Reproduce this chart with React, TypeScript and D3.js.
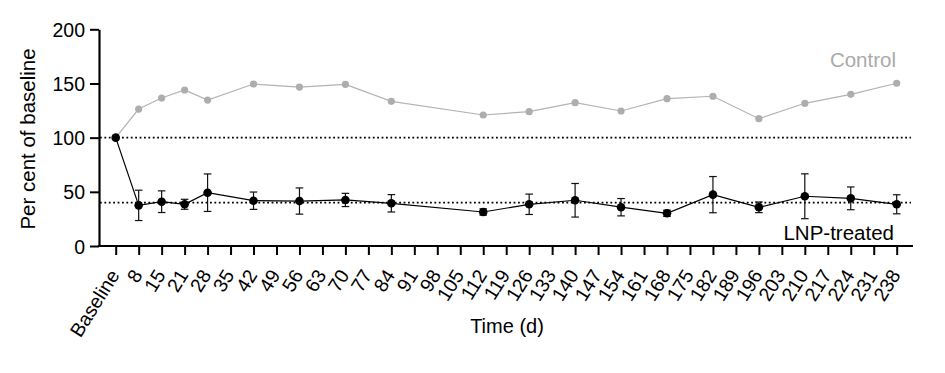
import React, { useEffect, useRef } from 'react';
import * as d3 from 'd3';

const timeLabels = [
  'Baseline', '8', '15', '21', '28', '35', '42', '49', '56', '63', '70', '77', '84', '91', '98', '105',
  '112', '119', '126', '133', '140', '147', '154', '161', '168', '175', '182', '189', '196', '203',
  '210', '217', '224', '231', '238'
];

const sampledDays = [
  'Baseline', '8', '15', '21', '28', '42', '56', '70', '84', '112', '126', '140', '154', '168',
  '182', '196', '210', '224', '238'
];

const controlValues = [
  100, 126.4, 136.6, 144, 134.7, 149.5, 146.7, 149.2, 133.5, 120.9, 124, 132.3, 124.6, 136,
  138.2, 117.5, 131.7, 140, 150.2
];

const lnpValues = [
  100, 37.5, 40.9, 38.5, 49.2, 41.8, 41.5, 42.5, 39.4, 31.4, 38.5, 42.2, 35.8, 30.2,
  47.4, 35.7, 45.9, 44, 38.5
];

const lnpError = [
  0, 14, 10, 4.6, 17.3, 8, 12.1, 6.1, 8, 2.9, 9.4, 15.5, 8, 2.9,
  16.7, 4.9, 20.7, 10.5, 8.8
];

const yTicks = [0, 50, 100, 150, 200];
const refLines = [100, 40];

const FONT = '"Liberation Sans", Arial, Helvetica, sans-serif';
const W = 945;
const H = 373;

const App = () => {
  const ref = useRef<SVGSVGElement>(null);

  useEffect(() => {
    document.body.style.margin = '0';
    const svg = d3.select(ref.current);
    svg.selectAll('*').remove();

    const x = d3.scalePoint<string>().domain(timeLabels).range([115.7, 896.7]);
    const y = d3.scaleLinear().domain([0, 200]).range([246, 29.3]);
    const axisLeftX = 99;
    const axisRightX = 913;

    // reference dotted lines
    svg
      .selectAll('line.ref')
      .data(refLines)
      .join('line')
      .attr('class', 'ref')
      .attr('x1', axisLeftX + 1)
      .attr('x2', 911)
      .attr('y1', d => y(d))
      .attr('y2', d => y(d))
      .attr('stroke', '#000')
      .attr('stroke-width', 1.8)
      .attr('stroke-dasharray', '1.8 2.6');

    const pts = sampledDays.map((d, i) => ({
      day: d,
      ctrl: controlValues[i],
      lnp: lnpValues[i],
      err: lnpError[i]
    }));

    // control series
    const ctrlLine = d3
      .line<typeof pts[0]>()
      .x(d => x(d.day)!)
      .y(d => y(d.ctrl));
    svg
      .append('path')
      .datum(pts)
      .attr('d', ctrlLine)
      .attr('fill', 'none')
      .attr('stroke', '#b3b3b3')
      .attr('stroke-width', 1.2);
    svg
      .append('g')
      .selectAll('circle')
      .data(pts)
      .join('circle')
      .attr('cx', d => x(d.day)!)
      .attr('cy', d => y(d.ctrl))
      .attr('r', 3.6)
      .attr('fill', '#adadad');

    // LNP series
    const lnpLine = d3
      .line<typeof pts[0]>()
      .x(d => x(d.day)!)
      .y(d => y(d.lnp));
    svg
      .append('path')
      .datum(pts)
      .attr('d', lnpLine)
      .attr('fill', 'none')
      .attr('stroke', '#000')
      .attr('stroke-width', 1.2);

    const err = svg
      .append('g')
      .selectAll('g')
      .data(pts.filter(d => d.err > 0))
      .join('g')
      .attr('stroke', '#111')
      .attr('stroke-width', 1.2);
    err
      .append('line')
      .attr('x1', d => x(d.day)!)
      .attr('x2', d => x(d.day)!)
      .attr('y1', d => y(d.lnp + d.err))
      .attr('y2', d => y(d.lnp - d.err));
    err
      .selectAll('line.cap')
      .data(d => [
        { x: x(d.day)!, v: d.lnp + d.err },
        { x: x(d.day)!, v: d.lnp - d.err }
      ])
      .join('line')
      .attr('class', 'cap')
      .attr('x1', d => d.x - 3.8)
      .attr('x2', d => d.x + 3.8)
      .attr('y1', d => y(d.v))
      .attr('y2', d => y(d.v));

    svg
      .append('g')
      .selectAll('circle')
      .data(pts)
      .join('circle')
      .attr('cx', d => x(d.day)!)
      .attr('cy', d => y(d.lnp))
      .attr('r', 4.3)
      .attr('fill', '#000');

    // y axis
    const gy = svg
      .append('g')
      .attr('transform', `translate(${axisLeftX},0)`)
      .call(d3.axisLeft(y).tickValues(yTicks).tickSize(9).tickPadding(5).tickSizeOuter(0));
    gy.select('.domain').attr('stroke-width', 2.2);
    gy.selectAll('.tick line').attr('stroke-width', 2);
    gy.selectAll('.tick text')
      .attr('font-family', FONT)
      .attr('font-size', 19.5)
      .attr('dy', '0.36em')
      .attr('fill', '#000');

    // x axis
    const gx = svg
      .append('g')
      .attr('transform', `translate(0,246)`)
      .call(d3.axisBottom(x).tickSize(9).tickSizeOuter(0));
    gx.select('.domain').remove();
    gx.append('line')
      .attr('x1', axisLeftX - 1)
      .attr('x2', axisRightX)
      .attr('stroke', '#000')
      .attr('stroke-width', 2.2);
    gx.selectAll('.tick line').attr('stroke-width', 2);
    gx.selectAll('.tick text')
      .attr('font-family', FONT)
      .attr('font-size', 19.5)
      .attr('fill', '#000')
      .attr('text-anchor', 'end')
      .attr('y', 0)
      .attr('dy', 0)
      .attr('transform', 'translate(4,29) rotate(-58)');

    // axis titles
    svg
      .append('text')
      .attr('transform', `translate(35,139) rotate(-90)`)
      .attr('text-anchor', 'middle')
      .attr('font-family', FONT)
      .attr('font-size', 20.5)
      .text('Per cent of baseline');
    svg
      .append('text')
      .attr('x', 507)
      .attr('y', 333)
      .attr('text-anchor', 'middle')
      .attr('font-family', FONT)
      .attr('font-size', 20)
      .text('Time (d)');

    // series labels
    svg
      .append('text')
      .attr('x', 896)
      .attr('y', 66.5)
      .attr('text-anchor', 'end')
      .attr('font-family', FONT)
      .attr('font-size', 20.5)
      .attr('fill', '#aaaaaa')
      .text('Control');
    svg
      .append('text')
      .attr('x', 894)
      .attr('y', 240)
      .attr('text-anchor', 'end')
      .attr('font-family', FONT)
      .attr('font-size', 20.5)
      .attr('fill', '#000')
      .text('LNP-treated');
  }, []);

  return <svg ref={ref} width={W} height={H} style={{ display: 'block', background: '#fff' }} />;
};

export default App;
